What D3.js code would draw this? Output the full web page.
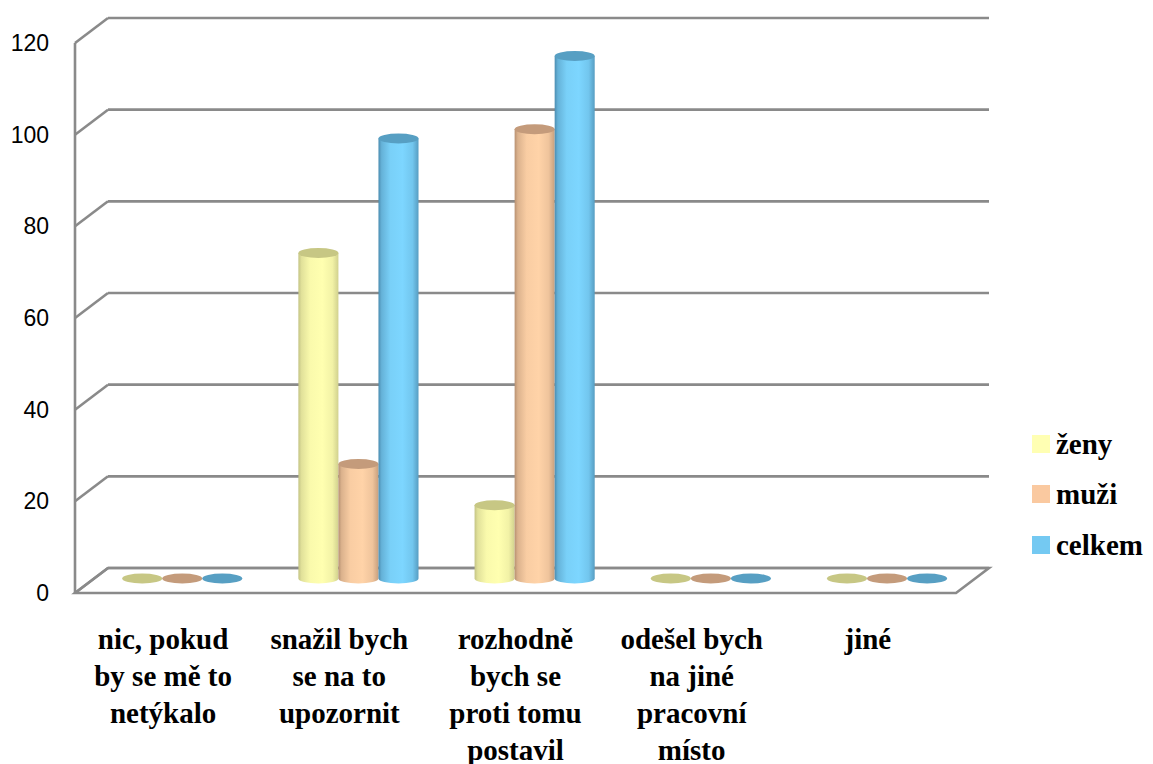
<!DOCTYPE html>
<html>
<head>
<meta charset="utf-8">
<script src="https://cdn.jsdelivr.net/npm/d3@7/dist/d3.min.js"></script>
</head>
<body>
<svg id="chart" width="1153" height="764"></svg>
<script>
// Survey answers (Czech) – counts by group
const categories = [
  ["nic, pokud", "by se mě to", "netýkalo"],
  ["snažil bych", "se na to", "upozornit"],
  ["rozhodně", "bych se", "proti tomu", "postavil"],
  ["odešel bych", "na jiné", "pracovní", "místo"],
  ["jiné"]
];
const seriesNames = ["ženy", "muži", "celkem"];
const zeny   = [0, 71, 16, 0, 0];
const muzi   = [0, 25, 98, 0, 0];
const celkem = [0, 96, 114, 0, 0];
const yTicks = [0, 20, 40, 60, 80, 100, 120];

const seriesValues = [zeny, muzi, celkem];
const seriesColors = [
  { body: "#FFFFB0", edge: "#BDBD80", top: "#C7C784", legend: "#FFFFB3" },
  { body: "#FFD3A8", edge: "#B08A6C", top: "#C49B7B", legend: "#FAC9A0" },
  { body: "#7DD6FF", edge: "#4785A8", top: "#579FC3", legend: "#74C9F2" }
];

d3.select("body").style("margin", "0px");
const svg = d3.select("#chart").style("display", "block");
const defs = svg.append("defs");

// 3D box: back wall and the depth offset towards the viewer
const depth = { dx: -33, dy: 25 };
const barDepth = 0.42;
const catKeys = categories.map((c, i) => i);

const y = d3.scaleLinear().domain([0, 120]).range([568, 18]);
const xBack = d3.scaleBand().domain(catKeys).range([108, 989]).padding(0);
const xSeries = d3.scaleBand().domain(seriesNames)
  .range([0, xBack.bandwidth()]).paddingInner(0).paddingOuter(0.7);

// category labels (bold serif, centred under each group)
const labelLines = [];
categories.forEach((lines, i) => lines.forEach((ln, k) => labelLines.push({ i, k, ln })));
const xFrontCenter = i => xBack(i) + xBack.bandwidth() / 2 + depth.dx;
svg.selectAll("text.cat").data(labelLines).join("text")
  .attr("class", "cat")
  .attr("text-anchor", "middle")
  .attr("x", d => xFrontCenter(d.i)).attr("y", d => 649 + d.k * 37)
  .attr("font-family", "Liberation Serif")
  .style("font-family", '"Liberation Serif"')
  .style("font-weight", "bold")
  .style("font-size", "29px")
  .text(d => d.ln);

// legend
const legendY = [444, 494, 545];
seriesNames.forEach((s, i) => {
  svg.append("rect").attr("x", 1032).attr("y", legendY[i] - 9)
    .attr("width", 18).attr("height", 18).attr("fill", seriesColors[i].legend);
});
svg.selectAll("text.leg").data(seriesNames).join("text")
  .attr("class", "leg")
  .attr("x", 1056).attr("y", (d, i) => legendY[i] + 10)
  .attr("font-family", "Liberation Serif")
  .style("font-family", '"Liberation Serif"')
  .style("font-weight", "bold")
  .style("font-size", "29px")
  .text(d => d);

const gridColor = "#8A8A8A";
const grid = svg.append("g");

// floor
const x0 = xBack.range()[0], x1 = xBack.range()[1];
grid.append("path")
  .attr("d", `M${x0 + depth.dx},${y(0) + depth.dy} L${x1 + depth.dx},${y(0) + depth.dy} L${x1},${y(0)} L${x0},${y(0)} Z`)
  .attr("fill", "#fff").attr("stroke", gridColor).attr("stroke-width", 2.6);

// back-wall gridlines and left-wall diagonals
yTicks.forEach(t => {
  grid.append("line")
    .attr("x1", x0).attr("x2", x1).attr("y1", y(t)).attr("y2", y(t))
    .attr("stroke", gridColor).attr("stroke-width", 2.6);
  grid.append("line")
    .attr("x1", x0 + depth.dx).attr("y1", y(t) + depth.dy)
    .attr("x2", x0).attr("y2", y(t))
    .attr("stroke", gridColor).attr("stroke-width", 2.6);
});

// front vertical axis
grid.append("line")
  .attr("x1", x0 + depth.dx).attr("x2", x0 + depth.dx)
  .attr("y1", y(120) + depth.dy).attr("y2", y(0) + depth.dy)
  .attr("stroke", gridColor).attr("stroke-width", 2.6);

// y tick labels
svg.selectAll("text.tick").data(yTicks).join("text")
  .attr("class", "tick")
  .attr("x", 49).attr("y", d => y(d) + depth.dy + 8)
  .attr("text-anchor", "end")
  .style("font-family", '"Liberation Sans"')
  .style("font-size", "23px")
  .text(d => d);

// cylinder gradients
seriesColors.forEach((c, i) => {
  const g = defs.append("linearGradient").attr("id", "cyl" + i)
    .attr("x1", "0%").attr("x2", "100%").attr("y1", "0%").attr("y2", "0%");
  const stops = [
    [0, d3.interpolateRgb(c.edge, c.body)(0.1)],
    [0.08, d3.interpolateRgb(c.edge, c.body)(0.55)],
    [0.3, d3.interpolateRgb(c.edge, c.body)(0.92)],
    [0.6, c.body],
    [0.85, d3.interpolateRgb(c.edge, c.body)(0.8)],
    [1, d3.interpolateRgb(c.edge, c.body)(0.3)]
  ];
  stops.forEach(([o, col]) => g.append("stop").attr("offset", o).attr("stop-color", col));
});

// cylinders
const rx = xSeries.bandwidth() / 2, ry = 5;
const offX = depth.dx * barDepth, offY = depth.dy * barDepth;
const bars = svg.append("g");
catKeys.forEach(ci => {
  seriesNames.forEach((s, si) => {
    const v = seriesValues[si][ci];
    const cx = xBack(ci) + xSeries(s) + rx + offX;
    const base = y(0) + offY;
    const top = y(v) + offY;
    const col = seriesColors[si];
    if (v > 0) {
      bars.append("path")
        .attr("d", `M${cx - rx},${top} L${cx - rx},${base} A${rx},${ry} 0 0 0 ${cx + rx},${base} L${cx + rx},${top} Z`)
        .attr("fill", `url(#cyl${si})`);
    }
    bars.append("ellipse")
      .attr("cx", cx).attr("cy", top).attr("rx", rx).attr("ry", ry)
      .attr("fill", col.top);
  });
});
</script>
</body>
</html>
